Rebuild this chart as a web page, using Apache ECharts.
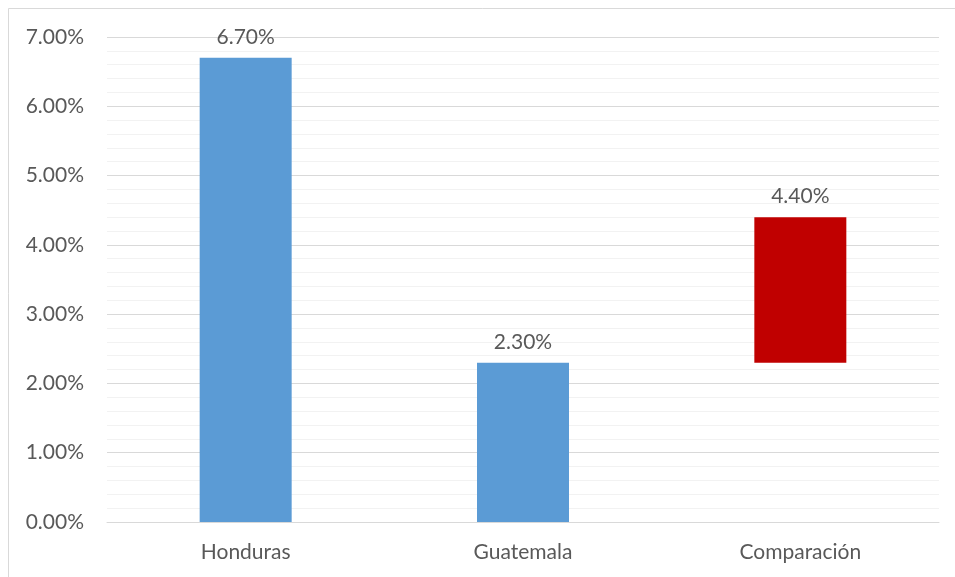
<!DOCTYPE html>
<html>
<head>
<meta charset="utf-8">
<script src="https://cdn.jsdelivr.net/npm/echarts@6/dist/echarts.min.js"></script>
<style>
  html, body { margin: 0; padding: 0; background: #ffffff; }
  #chart { width: 955px; height: 577px; }
</style>
</head>
<body>
<div id="chart"></div>
<script>
// Categories and values (percent)
const categories = ['Honduras', 'Guatemala', 'Comparación'];
const countryValues = [6.7, 2.3, null];      // full bars from zero
const comparisonBase = [null, null, 2.3];    // floating bar starts here
const comparisonTop = [null, null, 4.4];     // floating bar ends here
const yTicks = [0, 1, 2, 3, 4, 5, 6, 7];

const textColor = '#595959';
const fontFamily = 'Lato, "Open Sans", sans-serif';
const fontSize = 21;

const chart = echarts.init(document.getElementById('chart'), null, { renderer: 'canvas' });

const fmt = v => v.toFixed(2) + '%';

chart.setOption({
  animation: false,
  backgroundColor: '#ffffff',
  graphic: [{
    type: 'rect',
    shape: { x: 8.5, y: 8.5, width: 1000, height: 1000 },
    style: { fill: 'none', stroke: '#d9d9d9', lineWidth: 1 },
    silent: true
  }],
  grid: { left: 107, right: 16, top: 37, bottom: 55 },
  xAxis: {
    type: 'category',
    data: categories,
    axisLine: { show: true, lineStyle: { color: '#d9d9d9', width: 1 } },
    axisTick: { show: false },
    axisLabel: { color: textColor, fontSize: fontSize, fontFamily: fontFamily, margin: 20 }
  },
  yAxis: {
    type: 'value',
    min: yTicks[0],
    max: yTicks[yTicks.length - 1],
    interval: 1,
    axisLine: { show: false },
    axisTick: { show: false },
    axisLabel: { color: textColor, fontSize: fontSize, fontFamily: fontFamily, margin: 23, formatter: fmt },
    splitLine: { show: true, lineStyle: { color: '#d9d9d9', width: 1 } },
    minorTick: { show: false, splitNumber: 5 },
    minorSplitLine: { show: true, lineStyle: { color: '#f2f2f2', width: 1 } }
  },
  series: [
    {
      name: 'País',
      type: 'bar',
      stack: 'all',
      barWidth: 92,
      data: countryValues.map(v => v === null ? '-' : v),
      itemStyle: { color: '#5b9bd5' },
      label: {
        show: true, position: 'top', distance: 10,
        color: textColor, fontSize: fontSize, fontFamily: fontFamily,
        formatter: p => fmt(p.value)
      }
    },
    {
      name: 'Base',
      type: 'bar',
      stack: 'all',
      barWidth: 92,
      data: comparisonBase.map(v => v === null ? '-' : v),
      itemStyle: { color: 'rgba(0,0,0,0)' },
      silent: true
    },
    {
      name: 'Comparación',
      type: 'bar',
      stack: 'all',
      barWidth: 92,
      data: comparisonTop.map((v, i) => v === null ? '-' : v - comparisonBase[i]),
      itemStyle: { color: '#c00000' },
      label: {
        show: true, position: 'top', distance: 10,
        color: textColor, fontSize: fontSize, fontFamily: fontFamily,
        formatter: p => fmt(comparisonTop[p.dataIndex])
      }
    }
  ]
});
</script>
</body>
</html>
